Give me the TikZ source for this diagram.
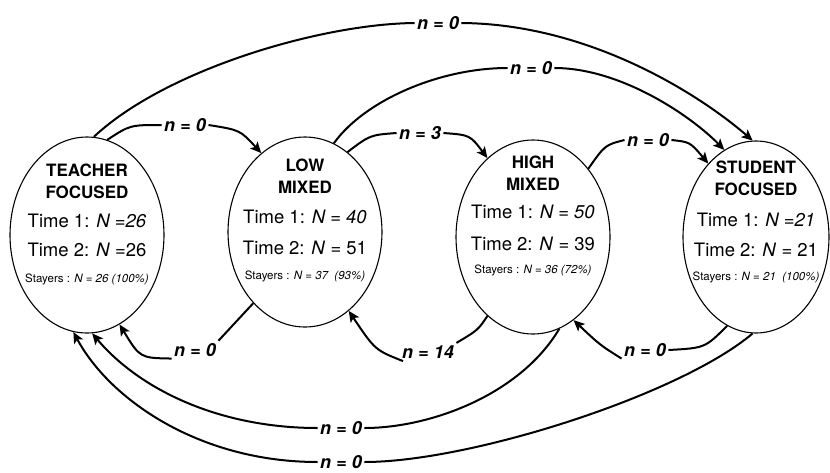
\documentclass[tikz,border=0pt]{standalone}
\usepackage{fontspec}
\setmainfont{TeX Gyre Heros}
\usetikzlibrary{shapes.geometric,arrows.meta}
\begin{document}
\begin{tikzpicture}[x=1pt,y=1pt,
  state/.style={ellipse, draw, line width=1.1pt, inner sep=0pt},
  ttl/.style={font=\bfseries\fontsize{17}{22}\selectfont, align=center, inner sep=0pt},
  tm/.style={font=\fontsize{18.5}{20}\selectfont, inner sep=0pt},
  sty/.style={font=\fontsize{11.5}{13}\selectfont, inner sep=0pt},
  lbl/.style={font=\bfseries\itshape\fontsize{18}{20}\selectfont, inner sep=2.5pt},
  conn/.style={line width=2pt, -{Stealth[length=11pt,width=10pt,inset=2.5pt]}}]
\useasboundingbox (0,0) rectangle (830,-472);
% states
\node[state, minimum width=154pt, minimum height=196pt] (T) at (87,-235) {};
\node[state, minimum width=154pt, minimum height=190pt] (Lw) at (305,-232) {};
\node[state, minimum width=154pt, minimum height=194pt] (Hi) at (533,-237) {};
\node[state, minimum width=146pt, minimum height=192pt] (S) at (756,-237) {};
% texts
\node[ttl] (Tt) at (87,-181) {TEACHER\\FOCUSED};
\node[tm] (T1) at (87,-221) {Time 1: \textit{N =26}};
\node[tm] (T2) at (87,-250) {Time 2: \textit{N} =26};
\node[sty] (T3) at (87,-279) {Stayers : \textit{N = 26 (100\%)}};
\node[ttl] (Lt) at (305,-176) {LOW\\MIXED};
\node[tm] (L1t) at (305,-217) {Time 1: \textit{N = 40}};
\node[tm] (L2t) at (305,-248) {Time 2: \textit{N} = 51};
\node[sty] (L3t) at (305,-276) {Stayers : \textit{N = 37~ (93\%)}};
\node[ttl] (Ht) at (533,-173) {HIGH\\MIXED};
\node[tm] (H1t) at (533,-212) {Time 1: \textit{N = 50}};
\node[tm] (H2t) at (533,-244) {Time 2: \textit{N} = 39};
\node[sty] (H3t) at (533,-270) {Stayers : \textit{N = 36 (72\%)}};
\node[ttl] (St) at (756,-178) {STUDENT\\FOCUSED};
\node[tm] (S1t) at (756,-220) {Time 1: \textit{N =21}};
\node[tm] (S2t) at (756,-250) {Time 2: \textit{N} = 21};
\node[sty] (S3t) at (756,-277) {Stayers : \textit{N = 21~ (100\%)}};
% labels
\node[lbl] (L1) at (438,-23) {n = 0};
\node[lbl] (L2) at (531,-68) {n = 0};
\node[lbl] (L3) at (185,-125) {n = 0};
\node[lbl] (L4) at (420,-133) {n = 3};
\node[lbl] (L5) at (648,-140) {n = 0};
\node[lbl] (L6) at (195,-350) {n = 0};
\node[lbl] (L7) at (428,-352) {n = 14};
\node[lbl] (L8) at (645,-350) {n = 0};
\node[lbl] (L9) at (341,-428) {n = 0};
\node[lbl] (L10) at (341,-462) {n = 0};
% connectors
\draw[conn] (T.86) .. controls (165,-70) and (320,-24) .. (L1.west) (L1.east) .. controls (590,-24) and (700,-95) .. (S.92);
\draw[conn] (Lw.72) .. controls (365,-100) and (440,-68) .. (L2.west) (L2.east) .. controls (620,-68) and (690,-115) .. (S.110);
\draw[conn] (T.78) .. controls (130,-125) .. (L3.west) (L3.east) .. controls (240,-130) .. (Lw.119);
\draw[conn] (Lw.62) .. controls (370,-135) .. (L4.west) (L4.east) .. controls (470,-135) .. (Hi.120);
\draw[conn] (Hi.51) .. controls (605,-145) .. (L5.west) (L5.east) .. controls (690,-142) .. (S.123.5);
\draw[conn] (Lw.234) -- (L6.north east) (L6.200) .. controls (140,-358) .. (T.290);
\draw[conn] (Hi.240) .. controls (478,-330) .. (L7.north east) (L7.200) .. controls (375,-350) .. (Lw.299.5);
\draw[conn] (S.252) .. controls (705,-348) .. (L8.east) (L8.200) .. controls (600,-345) .. (Hi.296.6);
\draw[conn] (Hi.286) .. controls (520,-395) and (430,-428) .. (L9.east) (L9.west) .. controls (220,-428) and (140,-390) .. (T.273);
\draw[conn] (S.268) .. controls (680,-395) and (470,-462) .. (L10.east) (L10.west) .. controls (200,-462) and (110,-400) .. (T.262);
\end{tikzpicture}
\end{document}
